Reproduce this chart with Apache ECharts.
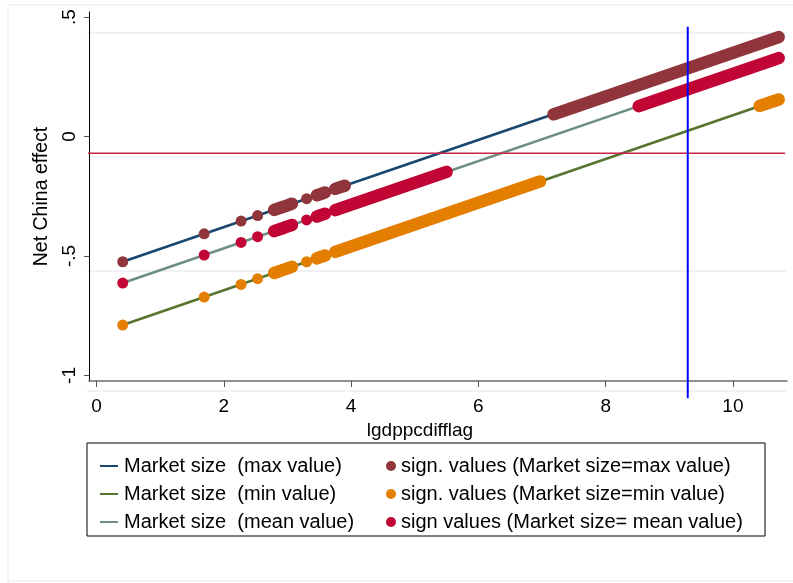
<!DOCTYPE html>
<html>
<head>
<meta charset="utf-8">
<script src="https://cdn.jsdelivr.net/npm/echarts@6/dist/echarts.min.js"></script>
<style>
  html, body { margin: 0; padding: 0; background: #fff; }
  #main { width: 793px; height: 583px; }
</style>
</head>
<body>
<div id="main"></div>
<script>
// fitted lines (end points)
var lineX = [0.41, 10.72];
var maxLineY = [-0.524, 0.416];
var minLineY = [-0.789, 0.155];
var meanLineY = [-0.613, 0.328];

// significant values, null = break between separate dots / runs
var maxDotX = [0.41, null, 1.69, null, 2.27, null, 2.53, null, 2.79, 2.91, 2.99, 3.07, null, 3.30, null, 3.46, 3.53, 3.59, null, 3.75, 3.83, 3.90, null, 7.18, 10.72];
var maxDotY = [-0.524, null, -0.407, null, -0.354, null, -0.331, null, -0.307, -0.296, -0.289, -0.281, null, -0.260, null, -0.246, -0.240, -0.234, null, -0.219, -0.212, -0.206, null, 0.093, 0.416];

var minDotX = [0.41, null, 1.69, null, 2.27, null, 2.53, null, 2.79, 2.91, 2.99, 3.07, null, 3.30, null, 3.46, 3.53, 3.59, null, 3.75, 6.97, null, 10.42, 10.72];
var minDotY = [-0.789, null, -0.672, null, -0.619, null, -0.595, null, -0.571, -0.560, -0.553, -0.545, null, -0.524, null, -0.510, -0.503, -0.498, null, -0.483, -0.188, null, 0.128, 0.155];

var meanDotX = [0.41, null, 1.69, null, 2.27, null, 2.53, null, 2.79, 2.91, 2.99, 3.07, null, 3.30, null, 3.46, 3.53, 3.59, null, 3.75, 5.50, null, 8.52, 10.72];
var meanDotY = [-0.613, null, -0.496, null, -0.443, null, -0.419, null, -0.396, -0.385, -0.377, -0.370, null, -0.349, null, -0.335, -0.328, -0.323, null, -0.308, -0.148, null, 0.127, 0.328];

// reference lines
var hLineY = -0.07;
var hLineX = [-0.157, 10.82];
var vLineX = 9.29;
var vLineY = [0.459, -1.095];

// ticks
var xTicks = [0, 2, 4, 6, 8, 10];
var yTicks = [-1, -0.5, 0, 0.5];
var yTickLabels = ['-1', '-.5', '0', '.5'];

var names = [
  'Market size  (max value)',
  'Market size  (min value)',
  'Market size  (mean value)',
  'sign. values (Market size=max value)',
  'sign. values (Market size=min value)',
  'sign values (Market size= mean value)'
];

var FONT = 'Liberation Sans';

function pairs(xs, ys) {
  var out = [];
  for (var i = 0; i < xs.length; i++) {
    if (xs[i] === null || ys[i] === null) out.push('-');
    else out.push([xs[i], ys[i]]);
  }
  return out;
}

function fitLine(name, ys, color) {
  return {
    name: name, type: 'line', data: pairs(lineX, ys),
    symbol: 'none', color: color, z: 2, silent: true,
    lineStyle: { color: color, width: 2.6 }
  };
}

function dots(name, xs, ys, color) {
  return {
    name: name, type: 'line', data: pairs(xs, ys),
    symbol: 'circle', symbolSize: 11, showSymbol: true,
    connectNulls: false, color: color, z: 3, silent: true,
    itemStyle: { color: color },
    lineStyle: { color: color, width: 12.5, cap: 'round', join: 'round' }
  };
}

var chart = echarts.init(document.getElementById('main'));

var faint = '#e8eef2';

var option = {
  animation: false,
  backgroundColor: '#fff',
  textStyle: { fontFamily: FONT },
  grid: { left: 89, right: 6, top: 12, bottom: 202 },
  xAxis: {
    type: 'value', min: -0.12, max: 10.85,
    name: 'lgdppcdifflag', nameLocation: 'middle', nameGap: 31,
    nameTextStyle: { color: '#000', fontSize: 19, fontFamily: FONT, padding: [0, 36, 0, 0] },
    axisLine: { show: true, onZero: false, lineStyle: { color: '#6e6e6e', width: 1.5 } },
    axisTick: { show: true, length: 6, customValues: xTicks, lineStyle: { color: '#555' } },
    axisLabel: { customValues: xTicks, margin: 16, color: '#000', fontSize: 19, fontFamily: FONT },
    splitLine: { show: false }
  },
  yAxis: {
    type: 'value', min: -1.023, max: 0.521,
    name: 'Net China effect', nameLocation: 'middle', nameGap: 35,
    nameTextStyle: { color: '#000', fontSize: 19.5, fontFamily: FONT },
    axisLine: { show: true, onZero: false, lineStyle: { color: '#000', width: 1 } },
    axisTick: { show: true, length: 5, customValues: yTicks, lineStyle: { color: '#555' } },
    axisLabel: {
      customValues: yTicks, rotate: 90, margin: 10, color: '#000', fontSize: 19, fontFamily: FONT,
      formatter: function (v) {
        var i = yTicks.indexOf(v);
        return i >= 0 ? yTickLabels[i] : '';
      }
    },
    splitLine: { show: false }
  },
  legend: [
    {
      data: names.slice(0, 3), orient: 'vertical', left: 95, top: 451,
      itemGap: 8, itemWidth: 18, itemHeight: 2, icon: 'rect',
      textStyle: { color: '#000', fontSize: 20, fontFamily: FONT, padding: [0, 0, 0, 1] }
    },
    {
      data: names.slice(3), orient: 'vertical', left: 381, top: 451,
      itemGap: 8, itemWidth: 10, itemHeight: 10, icon: 'circle',
      textStyle: { color: '#000', fontSize: 20, fontFamily: FONT, padding: [0, 0, 0, 0] }
    }
  ],
  graphic: [
    { type: 'line', shape: { x1: 8, y1: 5, x2: 793, y2: 5 }, style: { stroke: '#eef2f5', lineWidth: 1.5 } },
    { type: 'line', shape: { x1: 8, y1: 5, x2: 8, y2: 583 }, style: { stroke: '#eef2f5', lineWidth: 1.5 } },
    { type: 'line', shape: { x1: 8, y1: 581, x2: 793, y2: 581 }, style: { stroke: '#eef2f5', lineWidth: 1.5 } },
    { type: 'line', shape: { x1: 87, y1: 33, x2: 786, y2: 33 }, style: { stroke: faint, lineWidth: 1.5 } },
    { type: 'line', shape: { x1: 87, y1: 271, x2: 786, y2: 271 }, style: { stroke: faint, lineWidth: 1.5 } },
    { type: 'line', shape: { x1: 87, y1: 391, x2: 786, y2: 391 }, style: { stroke: faint, lineWidth: 1.5 } },
    { type: 'rect', shape: { x: 87, y: 443, width: 678, height: 93 }, style: { fill: '#fff', stroke: '#000', lineWidth: 1 } }
  ],
  series: [
    fitLine(names[0], maxLineY, '#1a476f'),
    fitLine(names[1], minLineY, '#55752f'),
    fitLine(names[2], meanLineY, '#6e8e84'),
    dots(names[3], maxDotX, maxDotY, '#90353b'),
    dots(names[4], minDotX, minDotY, '#e37e00'),
    dots(names[5], meanDotX, meanDotY, '#c10534'),
    {
      name: 'hline', type: 'line', data: [[hLineX[0], hLineY], [hLineX[1], hLineY]],
      symbol: 'none', clip: false, z: 4, silent: true,
      lineStyle: { color: '#c8234a', width: 1.6 }
    },
    {
      name: 'vline', type: 'line', data: [[vLineX, vLineY[0]], [vLineX, vLineY[1]]],
      symbol: 'none', clip: false, z: 5, silent: true,
      lineStyle: { color: '#0000ff', width: 2 }
    }
  ]
};

chart.setOption(option);
</script>
</body>
</html>
